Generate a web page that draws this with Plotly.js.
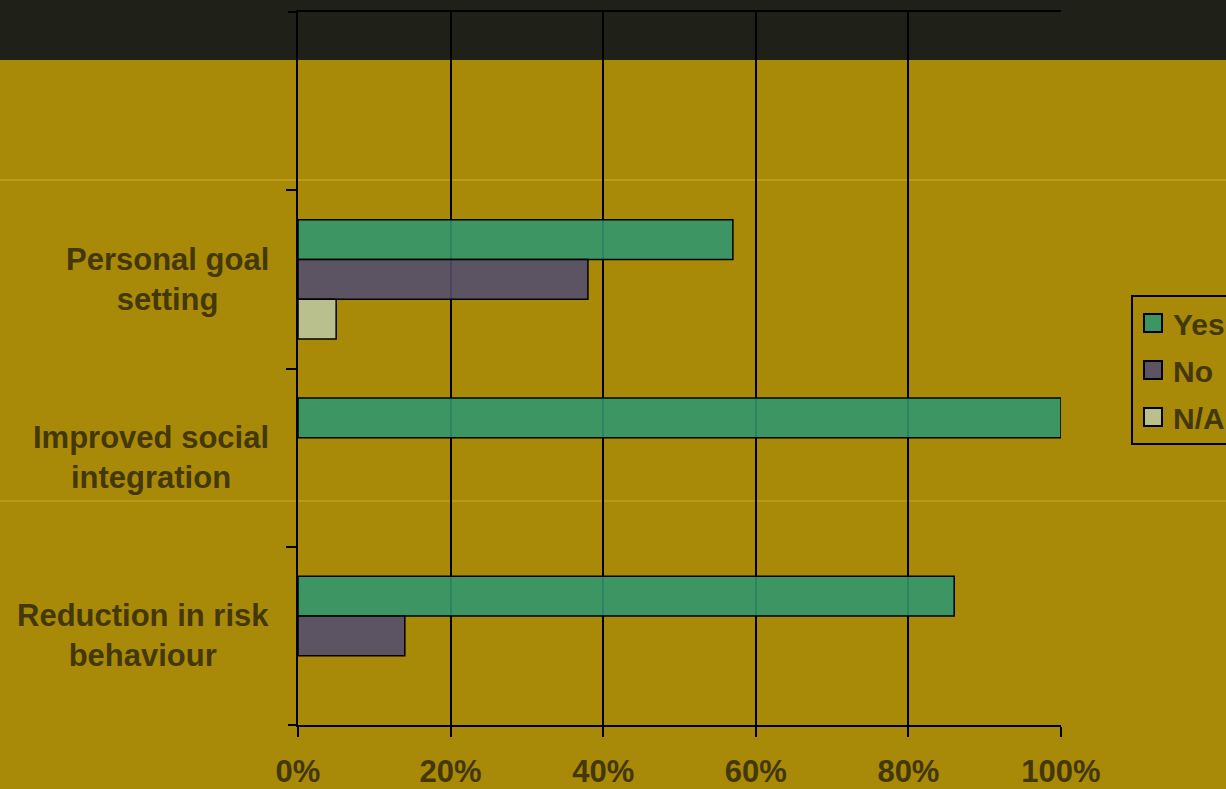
<!DOCTYPE html>
<html>
<head>
<meta charset="utf-8">
<script src="https://cdn.plot.ly/plotly-3.0.1.min.js"></script>
<style>
html,body{margin:0;padding:0;background:#a88a08;}
#chart{width:1226px;height:789px;}
</style>
</head>
<body>
<div id="chart"></div>
<script>
// Data (top to bottom on the axis)
const categories = ["Personal goal<br>setting", "Improved social<br>integration", "Reduction in risk<br>behaviour"];
const yesValues = [0.57, 1.00, 0.86];
const noValues  = [0.38, null, 0.14];
const naValues  = [0.05, null, null];
const seriesNames = ["Yes", "No", "N/A"];
const xTickVals = [0, 0.2, 0.4, 0.6, 0.8, 1.0];
const xTickText = ["0%", "20%", "40%", "60%", "80%", "100%"];

const textColor = "#443809";
const fontFam = "Liberation Sans, Arial, sans-serif";

function barTrace(name, vals, color) {
  return {
    type: "bar", orientation: "h", name: name, legendgroup: name,
    y: categories, x: vals,
    marker: {color: color, line: {color: "#000", width: 1.5}},
    hoverinfo: "x+name"
  };
}

const data = [
  barTrace(seriesNames[0], yesValues, "rgba(45,150,112,0.88)"),
  barTrace(seriesNames[1], noValues, "rgba(82,76,111,0.88)"),
  barTrace(seriesNames[2], naValues, "rgba(187,199,161,0.88)")
];

const annotations = categories.map(c => ({
  xref: "paper", yref: "y", x: -27/763, y: c, xanchor: "right", yanchor: "middle",
  text: c, showarrow: false, align: "center",
  font: {family: fontFam, size: 31, color: textColor, weight: "bold"}
}));

const layout = {
  width: 1226, height: 789,
  margin: {l: 298, r: 165, t: 12, b: 64, autoexpand: false},
  paper_bgcolor: "#a88a08",
  plot_bgcolor: "rgba(0,0,0,0)",
  barmode: "group",
  bargap: 0.33,
  bargroupgap: 0,
  showlegend: true,
  legend: {
    x: (1131-298)/763, xanchor: "left", y: (725-295)/713, yanchor: "top",
    bgcolor: "rgba(0,0,0,0)", bordercolor: "#000", borderwidth: 2,
    traceorder: "grouped", tracegroupgap: 5,
    font: {family: fontFam, size: 30, color: textColor, weight: "bold"}
  },
  xaxis: {
    range: [0, 1], tickvals: xTickVals, ticktext: xTickText,
    showgrid: true, gridcolor: "#000", gridwidth: 2,
    showline: true, linecolor: "#000", linewidth: 2, mirror: true,
    ticks: "outside", ticklen: 10, tickwidth: 2, tickcolor: "#000",
    ticklabelstandoff: 8,
    zeroline: false, fixedrange: true,
    tickfont: {family: fontFam, size: 31, color: textColor, weight: "bold"}
  },
  yaxis: {
    type: "category", categoryorder: "array", categoryarray: categories,
    range: [2.5, -1.5],
    tickson: "boundaries", ticks: "outside", ticklen: 10, tickwidth: 2, tickcolor: "#000",
    showticklabels: false, showgrid: false,
    showline: true, linecolor: "#000", linewidth: 2,
    zeroline: false, fixedrange: true
  },
  annotations: annotations,
  shapes: [
    {type: "rect", xref: "paper", yref: "paper", layer: "below",
     x0: -298/763, x1: 1 + 165/763, y0: (725-60)/713, y1: 1 + 12/713,
     fillcolor: "#1f2119", line: {width: 0}},
    {type: "line", xref: "paper", yref: "paper", layer: "below",
     x0: -298/763, x1: 1 + 165/763, y0: (725-180)/713, y1: (725-180)/713,
     line: {color: "rgba(200,170,40,0.6)", width: 2}},
    {type: "line", xref: "paper", yref: "paper", layer: "below",
     x0: -298/763, x1: 1 + 165/763, y0: (725-501)/713, y1: (725-501)/713,
     line: {color: "rgba(200,170,40,0.5)", width: 2}},
    {type: "line", xref: "paper", yref: "paper", layer: "above",
     x0: -10/763, x1: 0, y0: 1, y1: 1,
     line: {color: "#000", width: 2}},
    {type: "line", xref: "paper", yref: "paper", layer: "above",
     x0: -10/763, x1: 0, y0: 0, y1: 0,
     line: {color: "#000", width: 2}}
  ]
};

Plotly.newPlot("chart", data, layout, {displayModeBar: false, staticPlot: true}).then(gd => {
  gd.querySelectorAll(".legendpoints path").forEach(p => {
    const t = p.getAttribute("transform") || "";
    p.setAttribute("transform", t + " scale(1.5)");
    p.style.strokeWidth = "1.3px";
  });
});
</script>
</body>
</html>
